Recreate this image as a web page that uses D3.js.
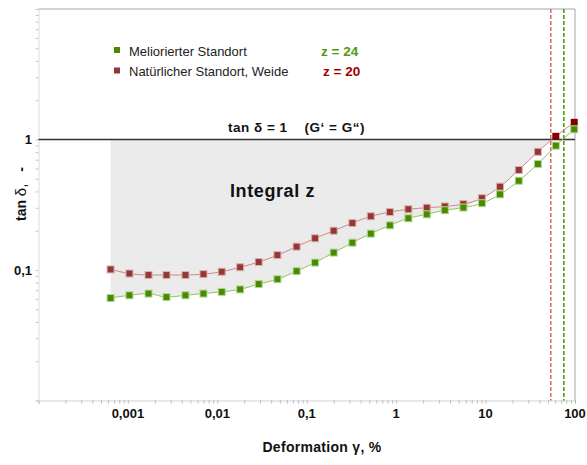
<!DOCTYPE html>
<html>
<head>
<meta charset="utf-8">
<script src="https://cdn.jsdelivr.net/npm/d3@7"></script>
<style>
  body { margin: 0; background: #fff; }
  svg { font-family: "Liberation Sans", Arial, sans-serif; }
</style>
</head>
<body>
<div id="canvas"></div>
<script>
// deformation (%) of every measured point
const deformation = [0.00064, 0.00104, 0.0017, 0.0027, 0.0044, 0.007, 0.0112, 0.018, 0.029, 0.047,
  0.077, 0.124, 0.2, 0.324, 0.52, 0.85, 1.37, 2.2, 3.5, 5.65, 9.1, 14.5, 23.5, 38.4, 61, 98];
// tan delta, Meliorierter Standort (green)
const meliorated = [0.061, 0.064, 0.066, 0.062, 0.064, 0.066, 0.068, 0.071, 0.078, 0.085,
  0.098, 0.114, 0.136, 0.162, 0.19, 0.22, 0.249, 0.267, 0.287, 0.301, 0.325, 0.38, 0.483, 0.649, 0.897, 1.197];
// tan delta, Natürlicher Standort, Weide (red)
const natural = [0.101, 0.094, 0.0915, 0.0915, 0.0915, 0.093, 0.097, 0.105, 0.115, 0.13,
  0.151, 0.175, 0.2, 0.229, 0.258, 0.278, 0.292, 0.3, 0.307, 0.32, 0.355, 0.435, 0.584, 0.805, 1.058, 1.354];
// deformation where tan delta = 1 (red, green)
const crossings = [53.6, 75];

const seriesNames = ["Meliorierter Standort", "Natürlicher Standort, Weide"];
const zLabels = ["z = 24", "z = 20"];
const xTickValues = [0.001, 0.01, 0.1, 1, 10, 100];
const xTickLabels = ["0,001", "0,01", "0,1", "1", "10", "100"];
const yTickValues = [0.1, 1];
const yTickLabels = ["0,1", "1"];

const width = 587, height = 465;
const margin = { left: 38.5, right: 575, top: 9, bottom: 400.5 };

const svg = d3.select("#canvas").append("svg")
  .attr("width", width)
  .attr("height", height);

const x = d3.scaleLog().domain([1e-4, 100]).range([margin.left, margin.right]);
const y = d3.scaleLog().domain([0.01, 10]).range([margin.bottom, margin.top]);

const green = "#4a8a00", red = "#953735";

// gray area between the curves and tan d = 1
const fillPts = deformation.slice(0, 20).map((d, i) => [d, meliorated[i]])
  .concat(deformation.slice(20, 24).map((d, i) => [d, natural[i + 20]]))
  .concat([[crossings[0], 1]]);

svg.append("path")
  .datum(fillPts)
  .attr("fill", "#ebebeb")
  .attr("d", d3.area()
    .curve(d3.curveMonotoneX)
    .x(d => x(d[0]))
    .y0(y(1))
    .y1(d => y(d[1])));

// axes
const xAxis = svg.append("g")
  .attr("transform", `translate(0,${margin.bottom})`)
  .call(d3.axisBottom(x).tickValues(x.ticks()).tickSize(3).tickFormat(""));
xAxis.select(".domain").attr("stroke", "#d0d0d0");
xAxis.selectAll(".tick line").attr("stroke", "#999").attr("stroke-dasharray", "1,1");

const yAxis = svg.append("g")
  .attr("transform", `translate(${margin.left},0)`)
  .call(d3.axisLeft(y).tickValues(y.ticks()).tickSize(3).tickFormat(""));
yAxis.select(".domain").attr("stroke", "#dcdcdc");
yAxis.selectAll(".tick line").attr("stroke", "#c8c8c8");

// top + right frame
svg.append("path")
  .attr("d", `M${margin.left},${margin.top}H${margin.right}V${margin.bottom}`)
  .attr("fill", "none")
  .attr("stroke", "#a6a6a6");

svg.selectAll(".xlab").data(xTickValues).enter().append("text")
  .attr("x", d => x(d))
  .attr("y", 418)
  .attr("text-anchor", "middle")
  .attr("font-size", 13).attr("font-weight", "bold").attr("fill", "#111")
  .text((d, i) => xTickLabels[i]);

svg.selectAll(".ylab").data(yTickValues).enter().append("text")
  .attr("x", 32)
  .attr("y", d => y(d) + 4.5)
  .attr("text-anchor", "end")
  .attr("font-size", 13).attr("font-weight", "bold").attr("fill", "#111")
  .text((d, i) => yTickLabels[i]);

// tan d = 1 line
svg.append("line")
  .attr("x1", margin.left).attr("x2", margin.right)
  .attr("y1", y(1)).attr("y2", y(1))
  .attr("stroke", "#333").attr("stroke-width", 1.5);

svg.selectAll(".cross").data(crossings).enter().append("line")
  .attr("x1", d => x(d)).attr("x2", d => x(d))
  .attr("y1", margin.top).attr("y2", margin.bottom)
  .attr("stroke", (d, i) => i === 0 ? "#d46a6a" : "#3f9a00")
  .attr("stroke-width", 1.5)
  .attr("stroke-dasharray", "4,2");

// series
const line = d3.line().curve(d3.curveMonotoneX)
  .x((d, i) => x(deformation[i]))
  .y(d => y(d));

svg.append("path").datum(natural)
  .attr("fill", "none").attr("stroke", "#cc8888").attr("stroke-width", 1)
  .attr("d", line);
svg.append("path").datum(meliorated)
  .attr("fill", "none").attr("stroke", "#92c260").attr("stroke-width", 1)
  .attr("d", line);

const s = 7;
svg.selectAll(".pr").data(natural).enter().append("rect")
  .attr("x", (d, i) => x(deformation[i]) - s / 2)
  .attr("y", d => y(d) - s / 2)
  .attr("width", s).attr("height", s)
  .attr("fill", (d, i) => i > 23 ? "#800000" : red)
  .attr("stroke", (d, i) => i > 23 ? "none" : "#dcb0b0")
  .attr("stroke-width", 1);
svg.selectAll(".pg").data(meliorated).enter().append("rect")
  .attr("x", (d, i) => x(deformation[i]) - s / 2)
  .attr("y", d => y(d) - s / 2)
  .attr("width", s).attr("height", s)
  .attr("fill", green)
  .attr("stroke", "#b4d894")
  .attr("stroke-width", 1);

// annotations
svg.append("text")
  .attr("x", 228).attr("y", 132)
  .attr("font-size", 13.5).attr("font-weight", "bold").attr("fill", "#111")
  .attr("letter-spacing", 0.5)
  .style("white-space", "pre")
  .text("tan δ = 1    (G‘ = G“)");

svg.append("text")
  .attr("x", 230).attr("y", 197)
  .attr("font-size", 18).attr("font-weight", "bold").attr("fill", "#111")
  .attr("letter-spacing", 0.6)
  .text("Integral z");

// legend
const legendColors = [green, red];
const legend = svg.selectAll(".leg").data(seriesNames).enter().append("g")
  .attr("transform", (d, i) => `translate(0,${i * 20.5})`);
legend.append("rect")
  .attr("x", 114).attr("y", 47)
  .attr("width", 6).attr("height", 6)
  .attr("fill", (d, i) => legendColors[i]);
legend.append("text")
  .attr("x", 129).attr("y", 55.5)
  .attr("font-size", 13).attr("fill", "#222")
  .text(d => d);
legend.append("text")
  .attr("x", (d, i) => i === 0 ? 321 : 323).attr("y", 55.5)
  .attr("font-size", 13.5).attr("font-weight", "bold")
  .attr("fill", (d, i) => i === 0 ? "#4f9a10" : "#a00000")
  .text((d, i) => zLabels[i]);

// axis titles
svg.append("text")
  .attr("x", 322).attr("y", 452)
  .attr("text-anchor", "middle")
  .attr("font-size", 14).attr("font-weight", "bold").attr("fill", "#111")
  .attr("letter-spacing", 0.3)
  .text("Deformation γ, %");

const yt = svg.append("text")
  .attr("transform", "translate(26,194) rotate(-90)")
  .attr("text-anchor", "middle")
  .attr("font-size", 14).attr("font-weight", "bold").attr("fill", "#111")
  .style("white-space", "pre");
yt.append("tspan").text("tan ");
yt.append("tspan").attr("font-weight", "normal").attr("font-size", 15).text("δ, ");
yt.append("tspan").text("  -");
</script>
</body>
</html>
